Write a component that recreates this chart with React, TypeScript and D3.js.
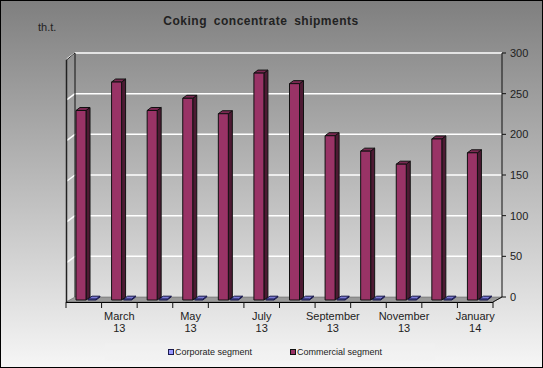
import * as React from 'react';
import { scaleBand, scaleLinear } from 'd3';

const months = ["February", "March", "April", "May", "June", "July", "August", "September", "October", "November", "December", "January"];
const years = ["13", "13", "13", "13", "13", "13", "13", "13", "13", "13", "13", "14"];
const corporate = [1, 1, 1, 1, 1, 1, 1, 1, 1, 1, 1, 1];
const commercial = [233, 268, 233, 248, 229, 279, 266, 202, 183, 167, 198, 181];
const yTicks = [0, 50, 100, 150, 200, 250, 300];

const W = 543, H = 368;
// depth of the 3d walls (front = back shifted left/down)
const DX = 9, DY = 5;
// bar depth
const BDX = 4, BDY = 3;
const font = '"Liberation Sans", Arial, sans-serif';

const App = () => {
    const idx = months.map((_, i) => i);
    const xScale = scaleBand<number>().domain(idx).range([66, 493]).padding(0);
    const yScale = scaleLinear().domain([0, 300]).range([297, 53]);
    const backL = 75, backR = 502;
    const bw = xScale.bandwidth();

    const bar = (x: number, v: number, w: number, front: string, side: string, top: string, stroke: string, key: string) => {
        const base = yScale(0) + 3;
        const yt = yScale(v) + 3;
        return (
            <g key={key} stroke={stroke} strokeWidth={1} strokeLinejoin="round">
                <polygon points={`${x + w},${base} ${x + w + BDX},${base - BDY} ${x + w + BDX},${yt - BDY} ${x + w},${yt}`} fill={side} />
                <polygon points={`${x},${yt} ${x + BDX},${yt - BDY} ${x + w + BDX},${yt - BDY} ${x + w},${yt}`} fill={top} />
                <rect x={x} y={yt} width={w} height={Math.max(base - yt, 0.01)} fill={front} />
            </g>
        );
    };

    return (
        <svg width={W} height={H} style={{ position: 'absolute', left: 0, top: 0 }} fontFamily={font}>
            <defs>
                <linearGradient id="bg" x1="0" y1="0" x2="0" y2="1">
                    <stop offset="0" stopColor="#7f7f7f" />
                    <stop offset="1" stopColor="#f6f6f6" />
                </linearGradient>
            </defs>
            <rect x={0.5} y={0.5} width={W - 1} height={H - 1} fill="url(#bg)" stroke="#000" />

            <text x={261} y={25} textAnchor="middle" fontSize={12} fontWeight="bold" fill="#222" letterSpacing={0.5} wordSpacing={3}>Coking concentrate shipments</text>
            <text x={38} y={31} fontSize={11} fill="#222">th.t.</text>

            {/* floor */}
            <polygon points={`${backL},${yScale(0)} ${backR},${yScale(0)} ${backR - DX},${yScale(0) + DY} ${backL - DX},${yScale(0) + DY}`} fill="#9a9a9a" stroke="#555" strokeWidth={0.5} />
            <line x1={backL - DX} x2={backR - DX} y1={yScale(0) + DY + 0.5} y2={yScale(0) + DY + 0.5} stroke="#000" />

            {/* gridlines on back and left wall */}
            {yTicks.filter(t => t > 0).map(t => (
                <g key={t} stroke="#fff" strokeWidth={1.5}>
                    <line x1={backL} x2={backR} y1={yScale(t)} y2={yScale(t)} />
                    <line x1={backL - DX + 1} y1={yScale(t) + DY + 1} x2={backL} y2={yScale(t)} />
                </g>
            ))}

            {/* left wall edges */}
            <line x1={backL - DX + 0.5} y1={yScale(300) + DY + 2} x2={backL - DX + 0.5} y2={yScale(0) + DY} stroke="#222" strokeWidth={1.5} />
            <line x1={backL - DX + 0.5} y1={yScale(300) + DY + 2} x2={backL} y2={yScale(300)} stroke="#222" />
            <line x1={backL} y1={yScale(300)} x2={backL} y2={yScale(0)} stroke="#111" />

            {/* right value axis */}
            <line x1={backR} y1={yScale(300)} x2={backR} y2={yScale(0)} stroke="#111" />
            <line x1={backR} y1={yScale(0)} x2={backR - DX} y2={yScale(0) + DY} stroke="#111" />
            {yTicks.map(t => (
                <g key={t}>
                    <line x1={backR} x2={backR + 4} y1={yScale(t)} y2={yScale(t)} stroke="#111" />
                    <text x={backR + 8} y={yScale(t) + 4} fontSize={11} fill="#222">{t}</text>
                </g>
            ))}

            {/* category ticks */}
            {[...idx, idx.length].map(i => {
                const x = i < idx.length ? xScale(i)! : xScale(idx.length - 1)! + bw;
                return <line key={i} x1={x} x2={x} y1={yScale(0) + DY} y2={yScale(0) + DY + 6} stroke="#111" />;
            })}
            {idx.filter(i => i % 2 === 1).map(i => (
                <text key={i} x={xScale(i)! + bw / 2} fontSize={11} fill="#222" textAnchor="middle">
                    <tspan x={xScale(i)! + bw / 2} y={320}>{months[i]}</tspan>
                    <tspan x={xScale(i)! + bw / 2} y={332}>{years[i]}</tspan>
                </text>
            ))}

            {/* bars */}
            {idx.map(i => (
                <g key={i}>
                    {bar(xScale(i)! + 22, corporate[i], 8, '#9999ff', '#5c5ca8', '#7a7ad6', '#1a1a4d', 'c' + i)}
                    {bar(xScale(i)! + 10, commercial[i], 10, '#993366', '#4d1a33', '#7a2952', '#111', 'm' + i)}
                </g>
            ))}

            {/* legend */}
            <rect x={105} y={343} width={330} height={18} fill="#f3f3f3" opacity={0.3} />
            <rect x={168.5} y={349.5} width={5} height={5} fill="#9999ff" stroke="#1a1a4d" />
            <text x={175} y={355} fontSize={9} fill="#222">Corporate segment</text>
            <rect x={290.5} y={349.5} width={5} height={5} fill="#993366" stroke="#111" />
            <text x={297} y={355} fontSize={9} fill="#222">Commercial segment</text>
        </svg>
    );
};

export default App;
